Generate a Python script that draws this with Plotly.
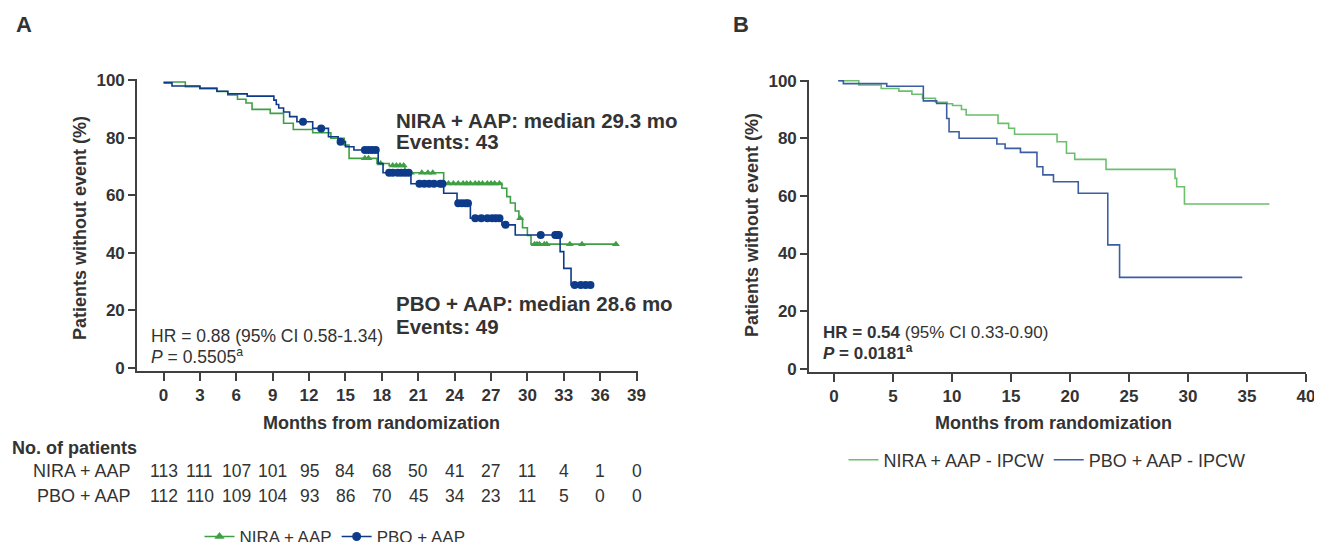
import numpy as np
import plotly.graph_objects as go

# Page is offset by the browser's default 8px body margin; the figure is sized so
# that page coordinates match the 1322x542 window.
OFF = 8
W, H = 1322 - OFF, 542 - OFF

# ---------------- Data ----------------
# Panel A: KM steps (months, % without event)
a_nira_t = [0, 1.8, 3.0, 4.4, 5.3, 6.1, 6.8, 7.3, 8.8, 9.9, 10.7, 12.3, 13.8, 14.9, 15.3, 17.6,
            18.6, 19.9, 23.1, 27.9, 28.3, 28.6, 29.0, 29.3, 29.6, 30.0, 30.3]
a_nira_s = [99.3, 97.7, 97.1, 96.0, 94.8, 93.3, 92.0, 89.8, 88.4, 85.0, 82.8, 81.7, 79.8, 77.4, 72.8, 71.0,
            70.3, 67.8, 64.1, 62.4, 59.5, 57.3, 54.5, 52.0, 48.7, 46.0, 43.0]
a_nira_end = 37.3
a_nira_cens = [16.6, 16.9, 17.9, 18.9, 19.2, 19.5, 19.8, 20.4, 21.3, 21.8, 22.2, 23.5, 23.9, 24.3, 24.7,
               25.0, 25.3, 25.7, 26.0, 26.3, 26.7, 27.0, 27.3, 27.7, 29.4, 30.6, 30.8, 31.0, 31.4, 31.6,
               33.5, 34.5, 37.3]

a_pbo_t = [0, 0.7, 3.0, 4.4, 5.3, 6.9, 9.1, 9.3, 9.5, 9.9, 10.4, 11.0, 12.3, 13.6, 14.4, 15.0, 15.7,
           17.7, 18.1, 20.4, 23.1, 24.2, 25.3, 27.9, 29.0, 32.7, 33.0, 33.6]
a_pbo_s = [99.0, 97.9, 97.1, 96.1, 95.2, 94.4, 93.0, 91.5, 90.3, 88.9, 87.3, 85.5, 83.2, 80.3, 78.6, 76.8, 75.7,
           71.0, 67.8, 64.0, 60.7, 57.2, 52.0, 49.7, 46.2, 40.4, 34.6, 28.8]
a_pbo_end = 35.2
a_pbo_cens = [11.5, 13.0, 14.6, 16.6, 16.9, 17.2, 17.5, 18.6, 18.9, 19.3, 19.6, 19.9, 20.2, 21.1, 21.5,
              21.9, 22.3, 22.8, 23.0, 24.3, 24.6, 24.9, 25.1, 25.7, 26.2, 26.7, 27.1, 27.4, 27.7, 28.2,
              31.1, 32.3, 32.45, 32.6, 33.9, 34.4, 34.8, 35.2]

# Panel B: IPCW curves
b_nira_t = [0.36, 2.1, 4.0, 5.5, 6.6, 7.5, 8.6, 9.6, 10.05, 10.8, 11.2, 13.9, 14.8, 15.3, 18.9, 19.7,
            20.4, 23.05, 28.9, 29.04, 29.7]
b_nira_s = [100, 98.5, 97.3, 96.4, 95.3, 93.9, 92.5, 92.0, 91.4, 90.0, 88.1, 85.2, 83.5, 81.4, 78.8, 74.8,
            72.7, 69.2, 66.1, 63.2, 57.2]
b_nira_end = 36.9

b_pbo_t = [0.36, 0.79, 4.47, 7.57, 8.7, 9.55, 9.75, 10.6, 13.8, 14.5, 15.8, 17.2, 17.7, 18.6, 20.7, 23.2, 24.2]
b_pbo_s = [100, 99.0, 98.1, 93.0, 92.1, 86.9, 82.3, 80.0, 78.0, 76.5, 75.1, 70.1, 67.3, 64.9, 60.9, 43.0, 31.7]
b_pbo_end = 34.6

# Number at risk
risk_months = [0, 3, 6, 9, 12, 15, 18, 21, 24, 27, 30, 33, 36, 39]
risk_nira = [113, 111, 107, 101, 95, 84, 68, 50, 41, 27, 11, 4, 1, 0]
risk_pbo = [112, 110, 109, 104, 93, 86, 70, 45, 34, 23, 11, 5, 0, 0]

a_xticks = list(range(0, 40, 3))
b_xticks = list(range(0, 41, 5))
y_ticks = list(range(0, 101, 20))

# ---------------- Styles ----------------
GREEN_A = "#3f9f45"
BLUE_A = "#0e3a8a"
GREEN_B = "#6cbf6c"
BLUE_B = "#3c5da3"
TXT = "#333333"
AX = "#404040"
FONT = "Liberation Sans, Arial, sans-serif"


def px(x):
    return (x - OFF) / W


def py(y):
    return 1 - (y - OFF) / H


def surv_at(ts, ss, tc):
    idx = np.searchsorted(np.array(ts), np.array(tc), side="right") - 1
    return [ss[i] for i in idx]


fig = go.Figure()

# Panel A lines
fig.add_trace(go.Scatter(x=a_nira_t + [a_nira_end], y=a_nira_s + [a_nira_s[-1]], mode="lines",
                         line=dict(color=GREEN_A, width=1.6, shape="hv"), showlegend=False,
                         xaxis="x", yaxis="y"))
fig.add_trace(go.Scatter(x=a_nira_cens, y=surv_at(a_nira_t, a_nira_s, a_nira_cens), mode="markers",
                         marker=dict(symbol="triangle-up", size=7, color=GREEN_A), showlegend=False,
                         xaxis="x", yaxis="y"))
fig.add_trace(go.Scatter(x=a_pbo_t + [a_pbo_end], y=a_pbo_s + [a_pbo_s[-1]], mode="lines",
                         line=dict(color=BLUE_A, width=1.6, shape="hv"), showlegend=False,
                         xaxis="x", yaxis="y"))
fig.add_trace(go.Scatter(x=a_pbo_cens, y=surv_at(a_pbo_t, a_pbo_s, a_pbo_cens), mode="markers",
                         marker=dict(symbol="circle", size=8, color=BLUE_A), showlegend=False,
                         xaxis="x", yaxis="y"))

# Panel B lines
fig.add_trace(go.Scatter(x=b_nira_t + [b_nira_end], y=b_nira_s + [b_nira_s[-1]], mode="lines",
                         line=dict(color=GREEN_B, width=1.6, shape="hv"), name="NIRA + AAP - IPCW",
                         legend="legend2", xaxis="x2", yaxis="y2"))
fig.add_trace(go.Scatter(x=b_pbo_t + [b_pbo_end], y=b_pbo_s + [b_pbo_s[-1]], mode="lines",
                         line=dict(color=BLUE_B, width=1.6, shape="hv"), name="PBO + AAP - IPCW",
                         legend="legend2", xaxis="x2", yaxis="y2"))

# Legend entries for panel A
fig.add_trace(go.Scatter(x=[None], y=[None], mode="lines+markers", name="NIRA + AAP",
                         line=dict(color=GREEN_A, width=1.6),
                         marker=dict(symbol="triangle-up", size=9, color=GREEN_A),
                         legend="legend", xaxis="x", yaxis="y"))
fig.add_trace(go.Scatter(x=[None], y=[None], mode="lines+markers", name="PBO + AAP",
                         line=dict(color=BLUE_A, width=1.6),
                         marker=dict(symbol="circle", size=9, color=BLUE_A),
                         legend="legend", xaxis="x", yaxis="y"))

axis_common = dict(showgrid=False, zeroline=False, showline=True, linecolor=AX, linewidth=1.6,
                   ticks="outside", tickcolor=AX, tickwidth=1.5,
                   tickfont=dict(family=FONT, size=17, color=TXT, weight="bold"), fixedrange=True)

fig.update_layout(
    width=W, height=H,
    margin=dict(l=0, r=0, t=0, b=0, autoexpand=False),
    paper_bgcolor="white", plot_bgcolor="white",
    font=dict(family=FONT, color=TXT),
    xaxis=dict(domain=[px(137), px(638)], range=[-2.185, 39.12], tickvals=a_xticks, ticklen=8,
               anchor="y", **axis_common),
    yaxis=dict(domain=[py(371), py(79)], range=[-1.04, 100.35], tickvals=y_ticks, ticklen=7,
               anchor="x", **axis_common),
    xaxis2=dict(domain=[px(809), px(1306)], range=[-2.12, 40.0], tickvals=b_xticks, ticklen=8,
                anchor="y2", **axis_common),
    yaxis2=dict(domain=[py(372), py(79.7)], range=[-1.15, 100.35], tickvals=y_ticks, ticklen=7,
                anchor="x2", **axis_common),
    legend=dict(orientation="h", x=px(335), xanchor="center", y=py(537), yanchor="middle",
                font=dict(family=FONT, size=17, color=TXT), bgcolor="rgba(0,0,0,0)",
                itemwidth=30, tracegroupgap=0),
    legend2=dict(orientation="h", x=px(1047), xanchor="center", y=py(460), yanchor="middle",
                 font=dict(family=FONT, size=18, color=TXT), bgcolor="rgba(0,0,0,0)",
                 itemwidth=30),
)

ann = []


def txt(x, y, s, size=16, bold=False, xanchor="left", angle=0, xref="paper", color=TXT):
    ann.append(dict(x=x if xref != "paper" else px(x), y=py(y), xref=xref, yref="paper", text=s,
                    showarrow=False, xanchor=xanchor, yanchor="middle", textangle=angle,
                    font=dict(family=FONT, size=size, color=color, weight="bold" if bold else "normal")))


# Panel letters
txt(24, 25, "A", size=22, bold=True, xanchor="center")
txt(741, 25, "B", size=22, bold=True, xanchor="center")

# Axis titles
txt(80, 228, "Patients without event (%)", size=18, bold=True, xanchor="center", angle=-90)
txt(752, 225, "Patients without event (%)", size=18, bold=True, xanchor="center", angle=-90)
txt(381, 423, "Months from randomization", size=18, bold=True, xanchor="center")
txt(1053, 423, "Months from randomization", size=18, bold=True, xanchor="center")

# Panel A annotations
txt(394, 120, "NIRA + AAP: median 29.3 mo", size=20.5, bold=True)
txt(394, 142, "Events: 43", size=20.5, bold=True)
txt(394, 303, "PBO + AAP: median 28.6 mo", size=20.5, bold=True)
txt(394, 326, "Events: 49", size=20.5, bold=True)
txt(149, 336, "HR = 0.88 (95% CI 0.58-1.34)", size=17.5)
txt(149, 356, "<i>P</i> = 0.5505<sup>a</sup>", size=17.5)

# Panel B annotations
txt(821, 332, "<b>HR = 0.54</b> (95% CI 0.33-0.90)", size=17)
txt(821, 352, "<b><i>P</i> = 0.0181<sup>a</sup></b>", size=17)

# Number at risk table
txt(10, 448, "No. of patients", size=18, bold=True)
txt(133, 471, "NIRA + AAP", size=18, xanchor="right")
txt(133, 496, "PBO + AAP", size=18, xanchor="right")
for m, n in zip(risk_months, risk_nira):
    txt(m, 471, str(n), size=17.5, xanchor="center", xref="x")
for m, n in zip(risk_months, risk_pbo):
    txt(m, 496, str(n), size=17.5, xanchor="center", xref="x")

fig.update_layout(annotations=ann)

fig.write_html("out.html")
